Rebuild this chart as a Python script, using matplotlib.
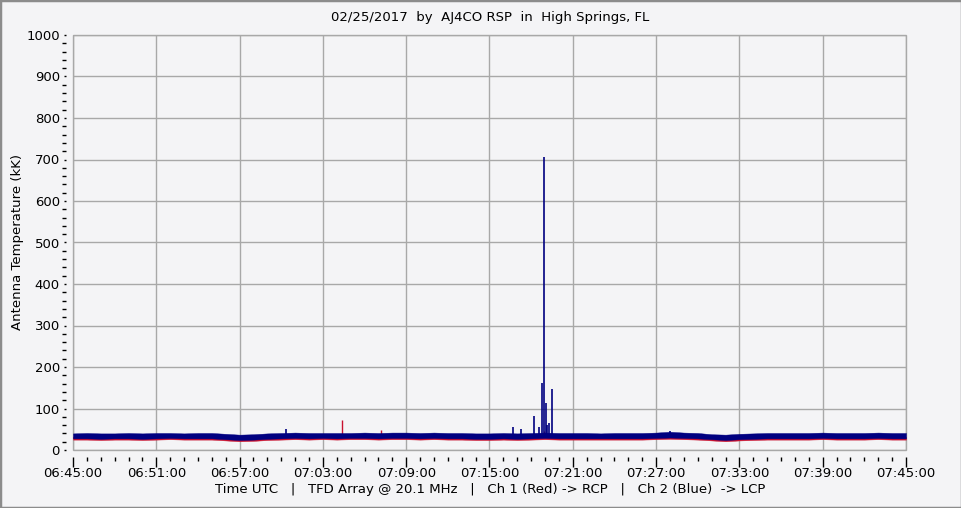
import matplotlib
matplotlib.use("Agg")
import matplotlib.pyplot as plt
from matplotlib.ticker import FixedLocator, MultipleLocator
from matplotlib.patches import Rectangle

# ---- data ----
title = "02/25/2017  by  AJ4CO RSP  in  High Springs, FL"
xlabel = "Time UTC   |   TFD Array @ 20.1 MHz   |   Ch 1 (Red) -> RCP   |   Ch 2 (Blue)  -> LCP"
ylabel = "Antenna Temperature (kK)"
tick_labels = ["06:45:00", "06:51:00", "06:57:00", "07:03:00", "07:09:00", "07:15:00",
               "07:21:00", "07:27:00", "07:33:00", "07:39:00", "07:45:00"]
minutes = list(range(61))  # minutes after 06:45:00

blue_hi = [40, 41, 40, 40, 41, 40, 41, 41, 40, 41, 41, 39, 37, 38, 40, 41, 42, 41, 41, 41,
           41, 42, 41, 42, 42, 41, 42, 41, 41, 40, 40, 41, 40, 41, 42, 41, 41, 41, 40, 41,
           41, 41, 42, 44, 42, 41, 38, 37, 39, 40, 41, 41, 41, 41, 42, 41, 41, 41, 42, 41, 41]
blue_lo = [28, 28, 27, 28, 28, 27, 28, 29, 28, 28, 28, 26, 24, 25, 27, 28, 29, 28, 29, 28,
           29, 29, 28, 29, 29, 28, 29, 28, 28, 27, 27, 28, 27, 28, 29, 28, 28, 28, 28, 28,
           28, 28, 29, 30, 29, 28, 26, 24, 26, 27, 28, 28, 28, 28, 29, 28, 28, 28, 29, 28, 28]
red_hi = [32, 32, 31, 32, 32, 31, 32, 33, 32, 32, 32, 30, 28, 29, 31, 32, 33, 32, 33, 32,
          33, 33, 32, 33, 33, 32, 33, 32, 32, 31, 31, 32, 31, 32, 33, 32, 32, 32, 32, 32,
          32, 32, 33, 34, 33, 32, 30, 28, 30, 31, 32, 32, 32, 32, 33, 32, 32, 32, 33, 32, 32]
red_lo = [25, 25, 24, 25, 25, 24, 25, 26, 25, 25, 25, 23, 21, 22, 24, 25, 26, 25, 26, 25,
          26, 26, 25, 26, 26, 25, 26, 25, 25, 24, 24, 25, 24, 25, 26, 25, 25, 25, 25, 25,
          25, 25, 26, 27, 26, 25, 23, 21, 23, 24, 25, 25, 25, 25, 26, 25, 25, 25, 26, 25, 25]

blue_spike_t = [15.35, 31.7, 32.3, 33.2, 33.6, 33.75, 33.93, 34.05, 34.15, 34.3, 34.5, 43.0]
blue_spike_v = [51, 55, 50, 82, 55, 162, 706, 113, 60, 65, 147, 46]
red_spike_t = [19.4, 22.2, 33.9]
red_spike_v = [72, 48, 45]

# ---- style ----
BG = "#f4f4f6"
GRID = "#a8a8a8"
BLUE = "#000080"
RED = "#c8102e"

W, H = 962, 508
fig = plt.figure(figsize=(W / 100, H / 100), dpi=100, facecolor=BG)
ax = fig.add_axes([73 / W, (H - 450) / H, (906 - 73) / W, (450 - 35) / H])
ax.set_facecolor(BG)

fig.patches.append(Rectangle((0, 0), 1, 1, transform=fig.transFigure, fill=False,
                             edgecolor="#8c8c8c", linewidth=2.5))

ax.fill_between(minutes, red_lo, red_hi, color=RED, linewidth=0.3, zorder=3)
ax.vlines(red_spike_t, 30, red_spike_v, color=RED, linewidth=1.0, zorder=3)
ax.fill_between(minutes, blue_lo, blue_hi, color=BLUE, linewidth=0.3, zorder=4)
ax.vlines(blue_spike_t, 32, blue_spike_v, color=BLUE, linewidth=1.2, zorder=4)

ax.set_xlim(0, 60)
ax.set_ylim(0, 1000)

ax.xaxis.set_major_locator(FixedLocator(list(range(0, 61, 6))))
ax.set_xticklabels(tick_labels)
ax.xaxis.set_minor_locator(MultipleLocator(1))
ax.yaxis.set_major_locator(MultipleLocator(100))
ax.yaxis.set_minor_locator(MultipleLocator(20))

ax.grid(True, which="major", color=GRID, linewidth=1.0, zorder=1)
ax.set_axisbelow(True)

ax.spines["left"].set_position(("outward", 5))
ax.spines["bottom"].set_position(("outward", 5))
for s in ["left", "bottom", "top", "right"]:
    ax.spines[s].set_visible(False)
ax.patch.set_edgecolor(GRID)
ax.patch.set_linewidth(1.0)

ax.tick_params(axis="x", which="major", length=7, width=1, color="black",
               labelsize=9.5, pad=0.5)
ax.tick_params(axis="x", which="minor", length=3, width=1, color="black")
ax.tick_params(axis="y", which="major", length=1.5, width=1, color="black",
               labelsize=9.5, pad=3)
ax.tick_params(axis="y", which="minor", length=3, width=1, color="black")

fig.text(490 / W, 1 - 18 / H, title, ha="center", va="center", fontsize=9.5)
fig.text(490 / W, 1 - 490 / H, xlabel, ha="center", va="center", fontsize=9.5)
fig.text(18 / W, 1 - 242 / H, ylabel, ha="center", va="center", rotation=90, fontsize=9.5)

fig.savefig("out.png", dpi=100, facecolor=BG)
